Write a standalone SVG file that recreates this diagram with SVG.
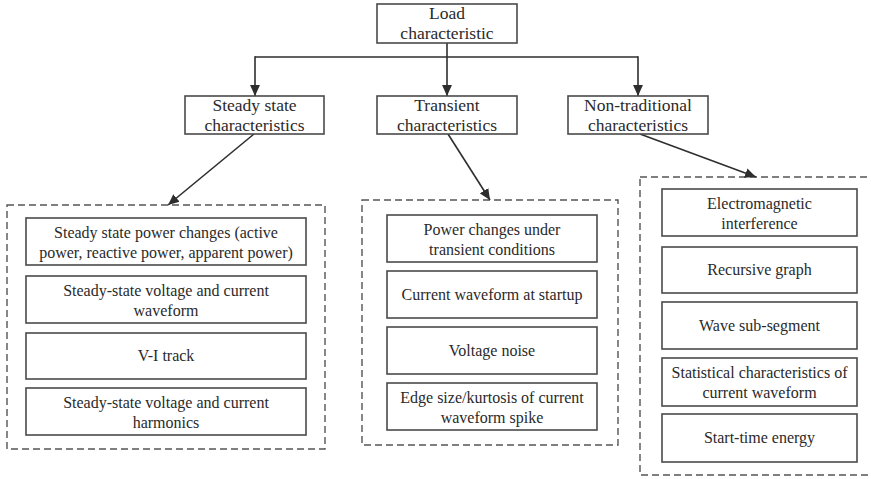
<svg xmlns="http://www.w3.org/2000/svg" width="871" height="479" viewBox="0 0 871 479">
  <style>
    .box { fill: #fff; stroke: #4a4a4a; stroke-width: 1.6; }
    .group { fill: none; stroke: #555; stroke-width: 1.4; stroke-dasharray: 7 4; }
    .edge { fill: none; stroke: #2e2e2e; stroke-width: 1.6; }
    .head { font-family: "Liberation Serif", "Times New Roman", serif; font-size: 17.5px; fill: #2a2a2a; text-anchor: middle; }
    .item { font-family: "Liberation Serif", "Times New Roman", serif; font-size: 16px; fill: #2a2a2a; text-anchor: middle; }
  </style>
  <defs>
    <marker id="arrow" viewBox="0 0 10 10" refX="10" refY="5" markerWidth="11" markerHeight="11" markerUnits="userSpaceOnUse" orient="auto">
      <path d="M0,0.5 L10,5 L0,9.5 Z" fill="#2e2e2e"/>
    </marker>
  </defs>

  <rect width="871" height="479" fill="#fff"/>

  <!-- dashed groupings -->
  <g id="groups">
    <rect class="group" x="7" y="205" width="318" height="244"/>
    <rect class="group" x="362" y="200" width="256" height="245"/>
    <rect class="group" x="640" y="177" width="240" height="298"/>
  </g>

  <!-- connectors -->
  <g id="connectors">
    <line class="edge" x1="447" y1="43" x2="447" y2="96" marker-end="url(#arrow)"/>
    <line class="edge" x1="255" y1="57" x2="638" y2="57"/>
    <line class="edge" x1="255" y1="56.2" x2="255" y2="96" marker-end="url(#arrow)"/>
    <line class="edge" x1="638" y1="56.2" x2="638" y2="96" marker-end="url(#arrow)"/>
    <line class="edge" x1="254" y1="134" x2="168" y2="205" marker-end="url(#arrow)"/>
    <line class="edge" x1="448" y1="134" x2="490" y2="200" marker-end="url(#arrow)"/>
    <line class="edge" x1="640" y1="134" x2="756" y2="177" marker-end="url(#arrow)"/>
  </g>

  <!-- root -->
  <g id="load">
    <rect class="box" x="377" y="4" width="140" height="39"/>
    <text class="head" x="447" y="19">Load</text>
    <text class="head" x="447" y="38.5">characteristic</text>
  </g>

  <!-- categories -->
  <g id="steady">
    <rect class="box" x="185" y="96" width="139" height="38"/>
    <text class="head" x="254.5" y="111">Steady state</text>
    <text class="head" x="254.5" y="130.5">characteristics</text>
  </g>
  <g id="transient">
    <rect class="box" x="377" y="96" width="140" height="38"/>
    <text class="head" x="447" y="111">Transient</text>
    <text class="head" x="447" y="130.5">characteristics</text>
  </g>
  <g id="nontraditional">
    <rect class="box" x="568" y="96" width="140" height="38"/>
    <text class="head" x="638" y="111">Non-traditional</text>
    <text class="head" x="638" y="130.5">characteristics</text>
  </g>

  <!-- steady state items -->
  <g id="steady-power">
    <rect class="box" x="26" y="218" width="280" height="47"/>
    <text class="item" x="166" y="238">Steady state power changes (active</text>
    <text class="item" x="166" y="258">power, reactive power, apparent power)</text>
  </g>
  <g id="steady-waveform">
    <rect class="box" x="26" y="276" width="280" height="47"/>
    <text class="item" x="166" y="296">Steady-state voltage and current</text>
    <text class="item" x="166" y="316">waveform</text>
  </g>
  <g id="vi-track">
    <rect class="box" x="26" y="333" width="280" height="46"/>
    <text class="item" x="166" y="361">V-I track</text>
  </g>
  <g id="steady-harmonics">
    <rect class="box" x="26" y="388" width="280" height="47"/>
    <text class="item" x="166" y="408">Steady-state voltage and current</text>
    <text class="item" x="166" y="428">harmonics</text>
  </g>

  <!-- transient items -->
  <g id="transient-power">
    <rect class="box" x="387" y="215" width="210" height="47"/>
    <text class="item" x="492" y="235">Power changes under</text>
    <text class="item" x="492" y="255">transient conditions</text>
  </g>
  <g id="startup-current">
    <rect class="box" x="387" y="271" width="210" height="47"/>
    <text class="item" x="492" y="300">Current waveform at startup</text>
  </g>
  <g id="voltage-noise">
    <rect class="box" x="387" y="327" width="210" height="47"/>
    <text class="item" x="492" y="356">Voltage noise</text>
  </g>
  <g id="spike-kurtosis">
    <rect class="box" x="387" y="383" width="210" height="47"/>
    <text class="item" x="492" y="403">Edge size/kurtosis of current</text>
    <text class="item" x="492" y="423">waveform spike</text>
  </g>

  <!-- non-traditional items -->
  <g id="emi">
    <rect class="box" x="662" y="189" width="195" height="47"/>
    <text class="item" x="759.5" y="209">Electromagnetic</text>
    <text class="item" x="759.5" y="229">interference</text>
  </g>
  <g id="recursive-graph">
    <rect class="box" x="662" y="247" width="195" height="46"/>
    <text class="item" x="759.5" y="275">Recursive graph</text>
  </g>
  <g id="wave-subsegment">
    <rect class="box" x="662" y="302" width="195" height="47"/>
    <text class="item" x="759.5" y="331">Wave sub-segment</text>
  </g>
  <g id="waveform-statistics">
    <rect class="box" x="662" y="358" width="195" height="48"/>
    <text class="item" x="759.5" y="378">Statistical characteristics of</text>
    <text class="item" x="759.5" y="398">current waveform</text>
  </g>
  <g id="start-energy">
    <rect class="box" x="662" y="414" width="195" height="48"/>
    <text class="item" x="759.5" y="443">Start-time energy</text>
  </g>
</svg>
